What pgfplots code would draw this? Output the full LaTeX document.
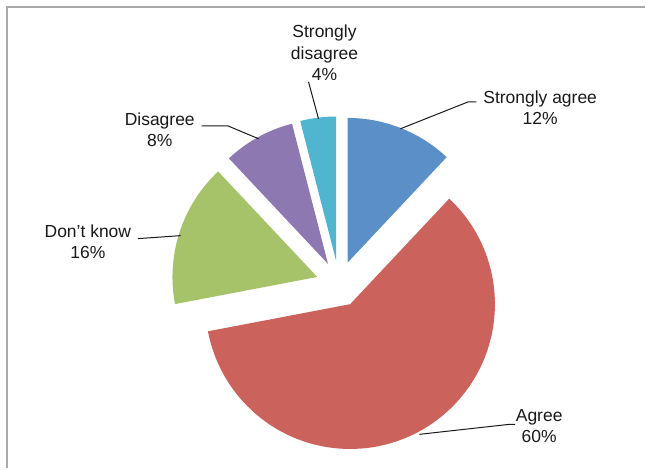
\documentclass[border=0pt]{standalone}
\usepackage{fontspec}
\setmainfont{Liberation Sans}
\usepackage{pgfplots}
\pgfplotsset{compat=1.18}
\definecolor{cSA}{HTML}{5B8FC8}
\definecolor{cA}{HTML}{CB625C}
\definecolor{cDK}{HTML}{A6C36A}
\definecolor{cD}{HTML}{8E78B2}
\definecolor{cSD}{HTML}{50B6CF}
\definecolor{frame}{HTML}{A8A8A8}
% #1 cumulative percent before this slice, #2 percent of this slice, #3 colour
\newcommand\slice[3]{%
  \pgfmathsetmacro\aA{90-3.6*#1}%
  \pgfmathsetmacro\aB{90-3.6*(#1+#2)}%
  \pgfmathsetmacro\aM{(\aA+\aB)/2}%
  \edef\temp{\noexpand\fill[#3] (axis cs:339.6,184.5) ++(\aM:23pt) -- ++(\aA:145pt) arc[start angle=\aA, end angle=\aB, radius=145pt] -- cycle;}%
  \temp}
\begin{document}
\begin{tikzpicture}
\begin{axis}[
  x=1pt, y=1pt, xmin=0, xmax=646, ymin=0, ymax=469,
  scale only axis, hide axis, clip=false,
]
\path (axis cs:0,0) rectangle (axis cs:646,469);
\draw[frame, line width=2pt] (axis cs:7,0) -- (axis cs:7,462);
\draw[frame, line width=2pt] (axis cs:6,462) -- (axis cs:646,462);
% slices: Strongly agree 12, Agree 60, Don't know 16, Disagree 8, Strongly disagree 4
\slice{0}{12}{cSA}
\slice{12}{60}{cA}
\slice{72}{16}{cDK}
\slice{88}{8}{cD}
\slice{96}{4}{cSD}
% leader lines
\draw[black!90, line width=1pt] (axis cs:401,340) -- (axis cs:469,367) -- (axis cs:477,367);
\draw[black!90, line width=1pt] (axis cs:319,350) -- (axis cs:309,387);
\draw[black!90, line width=1pt] (axis cs:259,330) -- (axis cs:228,343) -- (axis cs:202,343);
\draw[black!90, line width=1pt] (axis cs:181,233) -- (axis cs:138,230);
\draw[black!90, line width=1pt] (axis cs:420,34) -- (axis cs:510,44) -- (axis cs:516,44);
% labels
\tikzset{lbl/.style={align=center, text=black!90, font=\fontsize{17.5}{21.5}\selectfont, inner sep=0pt}}
\node[lbl] at (axis cs:541,361) {Strongly agree\\12\%};
\node[lbl] at (axis cs:325,416) {Strongly\\disagree\\4\%};
\node[lbl] at (axis cs:160,339) {Disagree\\8\%};
\node[lbl] at (axis cs:88,227) {Don’t know\\16\%};
\node[lbl] at (axis cs:540,42) {Agree\\60\%};
\end{axis}
\end{tikzpicture}
\end{document}
